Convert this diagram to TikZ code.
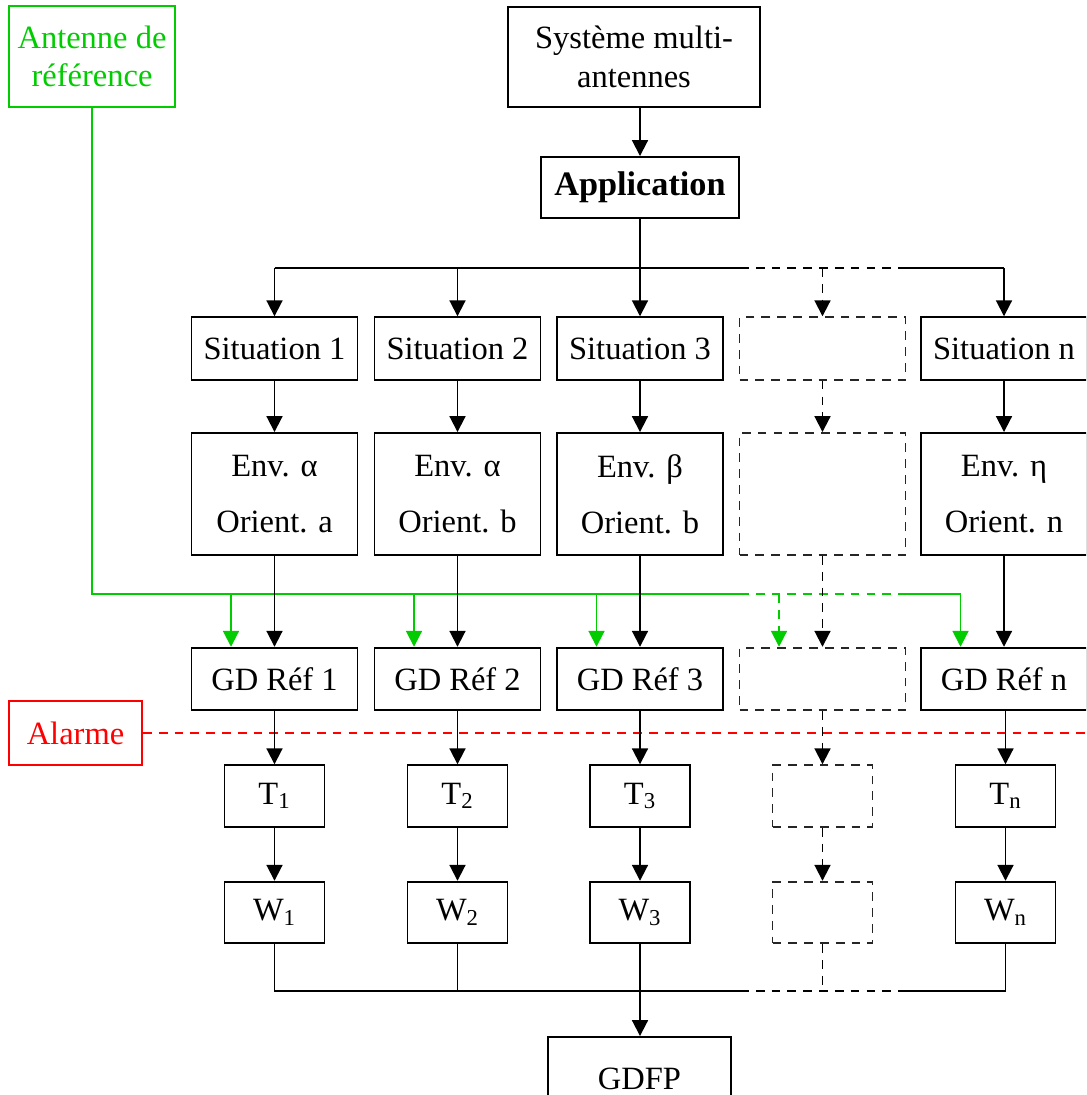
\documentclass[tikz,border=0pt]{standalone}
\usepackage{fontspec}
\setmainfont{Liberation Serif}
\usetikzlibrary{arrows.meta}
\definecolor{antgreen}{RGB}{0,204,0}
\definecolor{alarmred}{RGB}{255,0,0}

\begin{document}
\begin{tikzpicture}[x=0.02cm, y=-0.02cm, line width=1.1pt,
    txt/.style={font=\fontsize{18.5}{22}\selectfont},
    bloc/.style={draw, txt, minimum width=3.32cm, minimum height=1.25cm, inner sep=0pt, align=center},
    envbloc/.style={bloc, minimum height=2.44cm},
    petit/.style={bloc, minimum width=2cm, minimum height=1.23cm},
    pointille/.style={dash pattern=on 5pt off 4pt},
    vide/.style={pointille, draw=black!85},
    fl/.style={-{Triangle[length=9pt, width=9pt]}}]
    \useasboundingbox (0,0) rectangle (1086,1095);
    \clip (0,0) rectangle (1086,1095);
    %--- HAUT ---
    \node[bloc, antgreen, minimum height=2.02cm] (ant) at (92,56.5) {Antenne de\\référence};
    \node[bloc, minimum width=5.04cm, minimum height=2cm] (sys) at (634,57) {Système multi-\\antennes};
    \node[bloc, minimum width=3.96cm, minimum height=1.22cm, font=\fontsize{19.5}{24}\selectfont\bfseries] (app) at (640,187.5) {Application};
    %--- SITUATIONS ---
    \node[bloc] (sit1) at (274.5,348.5) {Situation 1};
    \node[bloc] (sit2) at (457.5,348.5) {Situation 2};
    \node[bloc] (sit3) at (640,348.5) {Situation 3};
    \node[bloc, vide] (sitx) at (822.5,348.5) {};
    \node[bloc] (sitn) at (1004,348.5) {Situation n};
    %--- ENVIRONNEMENTS ---
    \node[envbloc] (env1) at (274.5,494) {Env. α\\[10pt]Orient. a};
    \node[envbloc] (env2) at (457.5,494) {Env. α\\[10pt]Orient. b};
    \node[envbloc] (env3) at (640,494) {Env. β\\[10pt]Orient. b};
    \node[envbloc, vide] (envx) at (822.5,494) {};
    \node[envbloc] (envn) at (1004,494) {Env. η\\[10pt]Orient. n};
    %--- GD REF ---
    \node[bloc] (gd1) at (274.5,679) {GD Réf 1};
    \node[bloc] (gd2) at (457.5,679) {GD Réf 2};
    \node[bloc] (gd3) at (640,679) {GD Réf 3};
    \node[bloc, vide] (gdx) at (822.5,679) {};
    \node[bloc] (gdn) at (1004,679) {GD Réf n};
    %--- T ET W ---
    \node[petit] (t1) at (274.5,796) {T\textsubscript{1}};
    \node[petit] (t2) at (457.5,796) {T\textsubscript{2}};
    \node[petit] (t3) at (640,796) {T\textsubscript{3}};
    \node[petit, vide] (tx) at (822.5,796) {};
    \node[petit] (tn) at (1005.5,796) {T\textsubscript{n}};
    \node[petit] (w1) at (274.5,912.5) {W\textsubscript{1}};
    \node[petit] (w2) at (457.5,912.5) {W\textsubscript{2}};
    \node[petit] (w3) at (640,912.5) {W\textsubscript{3}};
    \node[petit, vide] (wx) at (822.5,912.5) {};
    \node[petit] (wn) at (1005.5,912.5) {W\textsubscript{n}};
    \node[bloc, minimum width=3.66cm, minimum height=1.68cm] (gdfp) at (639.5,1079) {GDFP};
    \node[bloc, alarmred, minimum width=2.66cm, minimum height=1.28cm] (alarm) at (75.5,733) {Alarme};
    %--- ANTENNE DE REFERENCE (vert) ---
    \coordinate (gcoin) at (92,594);
    \coordinate (gv1) at (740,594);
    \coordinate (gv2) at (907,594);
    \coordinate (g1) at ([xshift=-0.87cm]gd1.north);
    \coordinate (g2) at ([xshift=-0.87cm]gd2.north);
    \coordinate (g3) at ([xshift=-0.87cm]gd3.north);
    \coordinate (gx) at ([xshift=-0.87cm]gdx.north);
    \coordinate (gn) at ([xshift=-0.87cm]gdn.north);
    \draw[antgreen] (ant.south) -- (gcoin) -- (gv1);
    \draw[antgreen, pointille] (gv1) -- (gv2);
    \draw[antgreen] (gv2) -- (gn |- gcoin);
    \draw[antgreen, fl] (g1 |- gcoin) -- (g1);
    \draw[antgreen, fl] (g2 |- gcoin) -- (g2);
    \draw[antgreen, fl] (g3 |- gcoin) -- (g3);
    \draw[antgreen, fl, pointille] (gx |- gcoin) -- (gx);
    \draw[antgreen, fl] (gn |- gcoin) -- (gn);
    %--- ALARME ---
    \draw[alarmred, pointille] (alarm.east) -- (1086,733);
    %--- BUS DU HAUT ---
    \coordinate (busg) at (274.5,268);
    \coordinate (bus1) at (740,268);
    \coordinate (bus2) at (907,268);
    \draw[fl] (sys.south -| app.north) -- (app.north);
    \draw (app.south) -- (app.south |- busg);
    \draw (busg) -- (bus1);
    \draw[pointille] (bus1) -- (bus2);
    \draw (bus2) -- (sitn.north |- busg);
    \draw[fl] (busg) -- (sit1.north);
    \draw[fl] (sit2.north |- busg) -- (sit2.north);
    \draw[fl] (sit3.north |- busg) -- (sit3.north);
    \draw[fl, pointille] (sitx.north |- busg) -- (sitx.north);
    \draw[fl] (sitn.north |- busg) -- (sitn.north);
    %--- COLONNES ---
    \draw[fl] (sit1) -- (env1);
    \draw[fl] (sit2) -- (env2);
    \draw[fl] (sit3) -- (env3);
    \draw[fl, pointille] (sitx) -- (envx);
    \draw[fl] (sitn) -- (envn);
    \draw[fl] (env1) -- (gd1);
    \draw[fl] (env2) -- (gd2);
    \draw[fl] (env3) -- (gd3);
    \draw[fl, pointille] (envx) -- (gdx);
    \draw[fl] (envn) -- (gdn);
    \draw[fl] (gd1) -- (t1);
    \draw[fl] (gd2) -- (t2);
    \draw[fl] (gd3) -- (t3);
    \draw[fl, pointille] (gdx) -- (tx);
    \draw[fl] (gdn.south -| tn.north) -- (tn);
    \draw[fl] (t1) -- (w1);
    \draw[fl] (t2) -- (w2);
    \draw[fl] (t3) -- (w3);
    \draw[fl, pointille] (tx) -- (wx);
    \draw[fl] (tn) -- (wn);
    %--- BUS DU BAS ---
    \coordinate (basg) at (274.5,991);
    \coordinate (bas1) at (740,991);
    \coordinate (bas2) at (907,991);
    \draw (w1.south) -- (basg) -- (bas1);
    \draw[pointille] (bas1) -- (bas2);
    \draw (bas2) -- (wn.south |- basg) -- (wn.south);
    \draw (w2.south) -- (w2.south |- basg);
    \draw[pointille] (wx.south) -- (wx.south |- basg);
    \draw[fl] (w3.south) -- (w3.south |- gdfp.north);
  \end{tikzpicture}
\end{document}
